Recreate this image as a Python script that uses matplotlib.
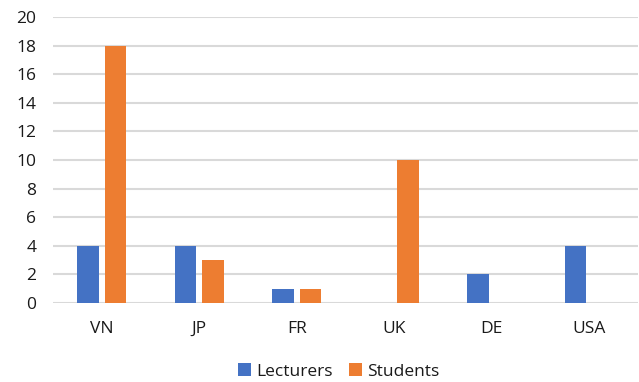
import matplotlib
matplotlib.use("Agg")
import matplotlib.pyplot as plt
import numpy as np

categories = ["VN", "JP", "FR", "UK", "DE", "USA"]
lecturers = [4, 4, 1, 0, 2, 4]
students = [18, 3, 1, 10, 0, 0]
yticks = [0, 2, 4, 6, 8, 10, 12, 14, 16, 18, 20]

plt.rcParams['font.family'] = ['Open Sans', 'DejaVu Sans']
fig = plt.figure(figsize=(6.39, 3.82), dpi=100)
ax = fig.add_axes([0.083, 0.2068, 0.9155, 0.7487])

x = np.arange(len(categories))
w = 0.22
ax.bar(x - 0.14, lecturers, w, color="#4472C4", label="Lecturers", zorder=3)
ax.bar(x + 0.14, students, w, color="#ED7D31", label="Students", zorder=3)

ax.set_xlim(-0.5, len(categories) - 0.5)
ax.set_ylim(0, 20)
ax.set_yticks(yticks)
ax.set_xticks(x)
ax.set_xticklabels(categories)
ax.yaxis.grid(True, color="#D9D9D9", linewidth=1.5, zorder=0)
ax.set_axisbelow(True)
for s in ax.spines.values():
    s.set_visible(False)
ax.tick_params(axis="both", length=0, labelsize=12.5, colors="#1a1a1a")
ax.tick_params(axis="y", pad=12)
ax.tick_params(axis="x", pad=13)

fig.legend(loc="lower center", bbox_to_anchor=(0.53, -0.035), ncol=2, frameon=False,
           fontsize=12.5, handlelength=0.75, handleheight=0.75, handletextpad=0.3,
           columnspacing=0.9, labelcolor="#1a1a1a")

fig.savefig("out.png", dpi=100)
